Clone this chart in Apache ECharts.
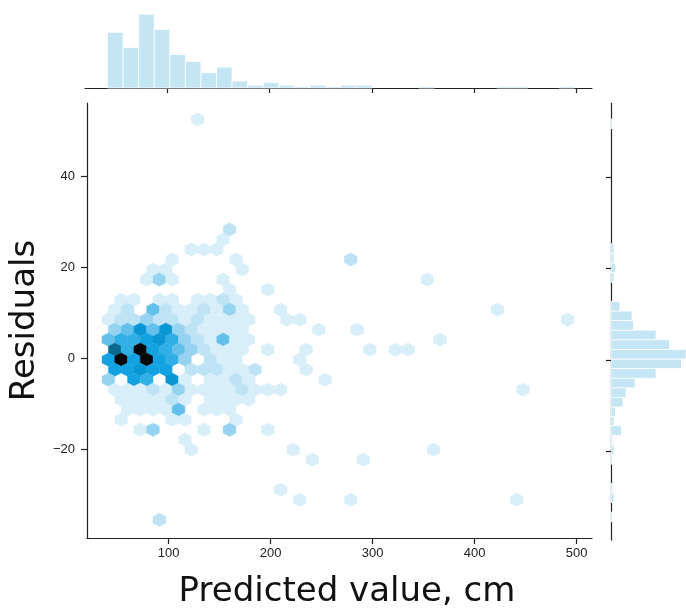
<!DOCTYPE html>
<html>
<head>
<meta charset="utf-8">
<title>Residuals vs predicted value</title>
<script src="https://cdn.jsdelivr.net/npm/echarts@6.0.0/dist/echarts.min.js"></script>
<style>
  html, body { margin: 0; padding: 0; background: #fff; }
  #chart { width: 686px; height: 614px; }
</style>
</head>
<body>
<div id="chart"></div>
<script>
// hexbin cells: [predicted value (hex centre), residual (hex centre), count]
var hexBins = [
  [128.5, 52.6, 1],
  [159.75, 28.4, 2],
  [153.5, 26.2, 1],
  [122.25, 24, 1], [134.75, 24, 1], [147.25, 24, 1],
  [103.5, 21.8, 1], [166, 21.8, 1], [278.5, 21.8, 2],
  [84.75, 19.6, 1], [97.25, 19.6, 1], [172.25, 19.6, 1],
  [78.5, 17.4, 1], [91, 17.4, 3], [103.5, 17.4, 1], [153.5, 17.4, 1], [353.5, 17.4, 1],
  [159.75, 15.2, 1], [197.25, 15.2, 1],
  [53.5, 13, 1], [66, 13, 1], [91, 13, 1], [103.5, 13, 1], [128.5, 13, 1], [141, 13, 1], [153.5, 13, 2], [166, 13, 1],
  [47.25, 10.8, 1], [59.75, 10.8, 2], [84.75, 10.8, 4], [97.25, 10.8, 2], [109.75, 10.8, 1], [122.25, 10.8, 1],
  [134.75, 10.8, 2], [147.25, 10.8, 1], [159.75, 10.8, 3], [172.25, 10.8, 1], [209.75, 10.8, 1], [422.25, 10.8, 1],
  [41, 8.6, 1], [53.5, 8.6, 2], [66, 8.6, 2], [78.5, 8.6, 3], [91, 8.6, 2], [103.5, 8.6, 2], [116, 8.6, 1],
  [128.5, 8.6, 2], [141, 8.6, 1], [153.5, 8.6, 1], [166, 8.6, 1], [178.5, 8.6, 1], [216, 8.6, 1], [228.5, 8.6, 1], [491, 8.6, 1],
  [47.25, 6.4, 3], [59.75, 6.4, 4], [72.25, 6.4, 7], [84.75, 6.4, 4], [97.25, 6.4, 7], [109.75, 6.4, 3], [122.25, 6.4, 2],
  [134.75, 6.4, 1], [147.25, 6.4, 1], [159.75, 6.4, 1], [172.25, 6.4, 1], [247.25, 6.4, 1], [284.75, 6.4, 1],
  [41, 4.2, 4], [53.5, 4.2, 5], [66, 4.2, 5], [78.5, 4.2, 6], [91, 4.2, 7], [103.5, 4.2, 5], [116, 4.2, 3],
  [128.5, 4.2, 2], [141, 4.2, 1], [153.5, 4.2, 4], [166, 4.2, 1], [178.5, 4.2, 1], [366, 4.2, 1],
  [47.25, 2, 8], [59.75, 2, 5], [72.25, 2, 10], [84.75, 2, 6], [97.25, 2, 5], [109.75, 2, 4], [122.25, 2, 3],
  [134.75, 2, 2], [147.25, 2, 1], [159.75, 2, 1], [172.25, 2, 1], [197.25, 2, 1], [234.75, 2, 1],
  [297.25, 2, 1], [322.25, 2, 1], [334.75, 2, 1],
  [41, -0.2, 6], [53.5, -0.2, 10], [66, -0.2, 6], [78.5, -0.2, 10], [91, -0.2, 6], [103.5, -0.2, 5], [116, -0.2, 3],
  [141, -0.2, 2], [153.5, -0.2, 1], [166, -0.2, 1], [228.5, -0.2, 1],
  [47.25, -2.4, 6], [59.75, -2.4, 6], [72.25, -2.4, 7], [84.75, -2.4, 6], [97.25, -2.4, 6], [122.25, -2.4, 2],
  [134.75, -2.4, 2], [147.25, -2.4, 2], [159.75, -2.4, 1], [172.25, -2.4, 1], [184.75, -2.4, 2], [234.75, -2.4, 1],
  [41, -4.6, 3], [66, -4.6, 6], [78.5, -4.6, 5], [103.5, -4.6, 7], [116, -4.6, 1], [141, -4.6, 1], [153.5, -4.6, 1],
  [166, -4.6, 2], [178.5, -4.6, 1], [253.5, -4.6, 1],
  [47.25, -6.8, 1], [59.75, -6.8, 1], [72.25, -6.8, 1], [84.75, -6.8, 2], [97.25, -6.8, 1], [109.75, -6.8, 3],
  [122.25, -6.8, 1], [134.75, -6.8, 1], [147.25, -6.8, 1], [159.75, -6.8, 1], [172.25, -6.8, 2], [184.75, -6.8, 1],
  [197.25, -6.8, 1], [209.75, -6.8, 1], [447.25, -6.8, 1],
  [53.5, -9, 1], [66, -9, 1], [78.5, -9, 1], [91, -9, 1], [103.5, -9, 2], [116, -9, 1], [141, -9, 1],
  [153.5, -9, 1], [166, -9, 1], [178.5, -9, 1],
  [59.75, -11.2, 1], [72.25, -11.2, 1], [84.75, -11.2, 1], [97.25, -11.2, 1], [109.75, -11.2, 4],
  [134.75, -11.2, 1], [147.25, -11.2, 1], [159.75, -11.2, 1],
  [53.5, -13.4, 1], [103.5, -13.4, 1], [116, -13.4, 1], [166, -13.4, 1],
  [72.25, -15.6, 1], [84.75, -15.6, 3], [134.75, -15.6, 1], [159.75, -15.6, 3], [197.25, -15.6, 1],
  [116, -17.8, 1],
  [122.25, -20, 1], [222.25, -20, 1], [359.75, -20, 1],
  [241, -22.2, 1], [291, -22.2, 1],
  [209.75, -28.8, 1],
  [228.5, -31, 1], [278.5, -31, 1], [441, -31, 1],
  [91, -35.4, 2]
];
var hexStepX = 12.5;   // hex grid spacing in predicted value
var hexStepY = 2.2;    // row spacing in residuals

// marginal histogram of predicted value
var xBinEdges = [42, 57.2, 72.4, 87.6, 102.8, 118, 133.2, 148.4, 163.6, 178.8, 194, 209.2, 224.4, 239.6,
  254.8, 270, 285.2, 300.4, 315.6, 330.8, 346, 361.2, 376.4, 391.6, 406.8, 422, 437.2, 452.4, 467.6, 482.8, 498];
var xBinCounts = [40, 29, 53, 42, 24, 19, 11, 15, 5, 2, 4, 2, 1, 2, 1, 2, 2, 0, 0, 0, 1, 0, 0, 0, 0, 1, 1, 0, 0, 1];

// marginal histogram of residuals
var yBinEdges = [-35.4, -33.3, -31.2, -29.1, -27.0, -24.9, -22.8, -20.7, -18.6, -16.5, -14.4, -12.4, -10.3,
  -8.2, -6.1, -4.0, -1.9, 0.2, 2.3, 4.4, 6.5, 8.6, 10.7, 12.8, 14.9, 17.0, 19.1, 21.2, 23.3, 25.4, 27.5,
  29.6, 31.7, 33.8, 35.9, 38.0, 40.1, 42.2, 44.3, 46.4, 48.5, 50.6, 52.7];
var yBinCounts = [1, 0, 2, 1, 0, 0, 1, 2, 1, 7, 2, 3, 8, 10, 16, 30, 47, 50, 39, 30, 15, 14, 6, 0, 0, 2,
  3, 2, 2, 0, 0, 0, 0, 0, 0, 0, 0, 0, 0, 0, 0, 1];

var xTicks = [100, 200, 300, 400, 500];
var yTicks = [-20, 0, 20, 40];

var hexColors = ['#d8eff9', '#bde3f5', '#95d3f0', '#62c0eb', '#30aee6', '#12a2e1', '#0896d4',
  '#0b6a8f', '#093246', '#040607'];
var histColor = '#c3e5f4';
var axisColor = '#222';

var myChart = echarts.init(document.getElementById('chart'), null, { renderer: 'canvas' });

var topData = [];
xBinCounts.forEach(function (c, i) {
  if (c > 0) topData.push([xBinEdges[i], xBinEdges[i + 1], c]);
});
var sideData = [];
yBinCounts.forEach(function (c, i) {
  if (c > 0) sideData.push([yBinEdges[i], yBinEdges[i + 1], c]);
});

function minusSign(v) {
  return String(v).replace('-', '\u2212');
}

var lineStyle = { color: axisColor, width: 1.2 };

var option = {
  animation: false,
  backgroundColor: '#fff',
  grid: [
    { left: 85, top: 103, width: 507, height: 437 },
    { left: 85, top: 10, width: 507, height: 78 },
    { left: 611, top: 103, width: 75, height: 437 }
  ],
  xAxis: [
    {
      gridIndex: 0, type: 'value', min: 20, max: 515,
      name: 'Predicted value, cm', nameLocation: 'middle', nameGap: 37,
      nameTextStyle: { fontFamily: 'DejaVu Sans', fontSize: 34, color: '#111', padding: [0, 0, 0, 15] },
      axisLine: { show: true, onZero: false, lineStyle: lineStyle },
      axisTick: { show: true, customValues: xTicks, length: 6, lineStyle: lineStyle },
      axisLabel: { customValues: xTicks, fontFamily: 'Liberation Sans', fontSize: 13, color: axisColor, margin: 9 },
      splitLine: { show: false }
    },
    {
      gridIndex: 1, type: 'value', min: 20, max: 515,
      axisLine: { show: true, onZero: false, lineStyle: lineStyle },
      axisTick: { show: true, customValues: xTicks, length: 5, lineStyle: lineStyle },
      axisLabel: { show: false },
      splitLine: { show: false }
    },
    {
      gridIndex: 2, type: 'value', min: 0, max: 50, show: false
    }
  ],
  yAxis: [
    {
      gridIndex: 0, type: 'value', min: -39.4, max: 56.2,
      name: 'Residuals', nameLocation: 'middle', nameGap: 31, nameRotate: 90,
      nameTextStyle: { fontFamily: 'DejaVu Sans', fontSize: 34, color: '#111' },
      axisLine: { show: true, onZero: false, lineStyle: lineStyle },
      axisTick: { show: true, customValues: yTicks, length: 6, lineStyle: lineStyle },
      axisLabel: { customValues: yTicks, formatter: minusSign, fontFamily: 'Liberation Sans', fontSize: 13, color: axisColor, margin: 12 },
      splitLine: { show: false }
    },
    {
      gridIndex: 1, type: 'value', min: 0, max: 56, show: false
    },
    {
      gridIndex: 2, type: 'value', min: -39.4, max: 56.2,
      axisLine: { show: true, onZero: false, lineStyle: lineStyle },
      axisTick: { show: true, customValues: yTicks, length: 5, lineStyle: lineStyle },
      axisLabel: { show: false },
      splitLine: { show: false }
    }
  ],
  series: [
    {
      type: 'custom',
      xAxisIndex: 0, yAxisIndex: 0,
      clip: true,
      encode: { x: 0, y: 1 },
      data: hexBins,
      renderItem: function (params, api) {
        var c = api.coord([api.value(0), api.value(1)]);
        var w = api.size([hexStepX, 0])[0] / 2;
        var r = api.size([0, hexStepY])[1];
        var t = r * 2 / 3, s = r / 3;
        var n = Math.min(api.value(2), hexColors.length);
        var col = hexColors[n - 1];
        return {
          type: 'polygon',
          shape: { points: [[c[0], c[1] - t], [c[0] + w, c[1] - s], [c[0] + w, c[1] + s],
            [c[0], c[1] + t], [c[0] - w, c[1] + s], [c[0] - w, c[1] - s]] },
          style: { fill: col, stroke: col, lineWidth: 0.4 }
        };
      }
    },
    {
      type: 'custom',
      xAxisIndex: 1, yAxisIndex: 1,
      encode: { x: [0, 1], y: 2 },
      data: topData,
      renderItem: function (params, api) {
        var p0 = api.coord([api.value(0), 0]);
        var p1 = api.coord([api.value(1), api.value(2)]);
        return {
          type: 'rect',
          shape: { x: p0[0], y: p1[1], width: p1[0] - p0[0], height: p0[1] - p1[1] },
          style: { fill: histColor, stroke: '#fff', lineWidth: 0.8 }
        };
      }
    },
    {
      type: 'custom',
      xAxisIndex: 2, yAxisIndex: 2,
      clip: true,
      encode: { x: 2, y: [0, 1] },
      data: sideData,
      renderItem: function (params, api) {
        var p0 = api.coord([0, api.value(0)]);
        var p1 = api.coord([api.value(2), api.value(1)]);
        return {
          type: 'rect',
          shape: { x: p0[0], y: p1[1], width: p1[0] - p0[0], height: p0[1] - p1[1] },
          style: { fill: histColor, stroke: '#fff', lineWidth: 0.8 }
        };
      }
    }
  ]
};

myChart.setOption(option);
window.addEventListener('resize', function () {
  myChart.resize();
});
</script>
</body>
</html>
